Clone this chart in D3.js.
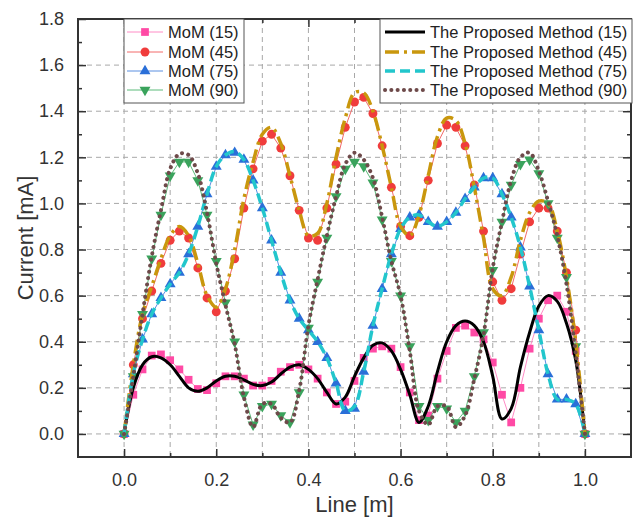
<!DOCTYPE html>
<html>
<head>
<meta charset="utf-8">
<script src="https://cdn.jsdelivr.net/npm/d3@7"></script>
<style>
  body { margin: 0; background: #fff; }
  svg { display: block; font-family: "Liberation Sans", Arial, sans-serif; }
</style>
</head>
<body>
<svg id="chart" width="642" height="519"></svg>
<script>
// sample positions along the line [m]
const xs = [0, 0.02, 0.04, 0.06, 0.08, 0.10, 0.12, 0.14, 0.16, 0.18,
  0.20, 0.22, 0.24, 0.26, 0.28, 0.30, 0.32, 0.34, 0.36, 0.38,
  0.40, 0.42, 0.44, 0.46, 0.48, 0.50, 0.52, 0.54, 0.56, 0.58,
  0.60, 0.62, 0.64, 0.66, 0.68, 0.70, 0.72, 0.74, 0.76, 0.78,
  0.80, 0.82, 0.84, 0.86, 0.88, 0.90, 0.92, 0.94, 0.96, 0.98, 1.00];

// MoM currents [mA]
const mom15 = [0, 0.17, 0.28, 0.34, 0.345, 0.32, 0.28, 0.235, 0.195, 0.19,
  0.22, 0.25, 0.25, 0.24, 0.21, 0.21, 0.23, 0.27, 0.29, 0.30,
  0.28, 0.24, 0.18, 0.13, 0.14, 0.23, 0.33, 0.37, 0.38, 0.37,
  0.29, 0.18, 0.06, 0.08, 0.24, 0.36, 0.46, 0.47, 0.44, 0.41,
  0.31, 0.17, 0.05, 0.20, 0.37, 0.50, 0.58, 0.60, 0.53, 0.36, 0];
const mom45 = [0, 0.30, 0.50, 0.62, 0.74, 0.84, 0.88, 0.85, 0.72, 0.59,
  0.53, 0.62, 0.76, 0.98, 1.15, 1.27, 1.30, 1.24, 1.12, 0.97,
  0.85, 0.84, 0.98, 1.17, 1.33, 1.44, 1.46, 1.39, 1.25, 1.07,
  0.90, 0.86, 0.94, 1.10, 1.26, 1.34, 1.33, 1.25, 1.08, 0.88,
  0.66, 0.58, 0.63, 0.78, 0.92, 0.98, 0.98, 0.88, 0.70, 0.45, 0];
const mom75 = [0, 0.26, 0.41, 0.52, 0.59, 0.65, 0.70, 0.78, 0.90, 1.04,
  1.16, 1.21, 1.22, 1.19, 1.10, 0.98, 0.84, 0.70, 0.58, 0.50,
  0.45, 0.40, 0.33, 0.22, 0.10, 0.11, 0.27, 0.47, 0.63, 0.78,
  0.89, 0.94, 0.95, 0.92, 0.90, 0.92, 0.96, 1.02, 1.07, 1.11,
  1.11, 1.04, 0.94, 0.81, 0.64, 0.45, 0.26, 0.15, 0.15, 0.13, 0];
const mom90 = [0, 0.25, 0.52, 0.76, 0.95, 1.12, 1.18, 1.18, 1.10, 0.95,
  0.75, 0.57, 0.40, 0.17, 0.04, 0.12, 0.13, 0.08, 0.05, 0.18,
  0.46, 0.66, 0.85, 1.03, 1.15, 1.18, 1.16, 1.09, 0.93, 0.75,
  0.60, 0.38, 0.12, 0.06, 0.12, 0.11, 0.05, 0.10, 0.25, 0.44,
  0.71, 0.92, 1.08, 1.17, 1.19, 1.13, 1.00, 0.85, 0.68, 0.38, 0];

// proposed method currents [mA]
const prop15 = [0, 0.20, 0.30, 0.335, 0.33, 0.30, 0.25, 0.20, 0.185, 0.20,
  0.23, 0.25, 0.25, 0.235, 0.215, 0.21, 0.225, 0.26, 0.29, 0.30,
  0.28, 0.24, 0.18, 0.13, 0.16, 0.25, 0.33, 0.385, 0.395, 0.36,
  0.28, 0.17, 0.05, 0.12, 0.27, 0.40, 0.47, 0.49, 0.47, 0.40,
  0.25, 0.065, 0.11, 0.29, 0.44, 0.555, 0.60, 0.575, 0.48, 0.32, 0];
const prop45 = [0, 0.30, 0.52, 0.64, 0.76, 0.86, 0.90, 0.86, 0.74, 0.60,
  0.55, 0.63, 0.80, 1.02, 1.18, 1.30, 1.33, 1.26, 1.12, 0.97,
  0.86, 0.87, 1.00, 1.20, 1.37, 1.48, 1.48, 1.40, 1.25, 1.07,
  0.90, 0.86, 0.95, 1.12, 1.29, 1.37, 1.36, 1.26, 1.07, 0.85,
  0.63, 0.60, 0.68, 0.84, 0.96, 1.01, 1.00, 0.88, 0.68, 0.40, 0];
const prop75 = [0, 0.26, 0.41, 0.52, 0.59, 0.65, 0.70, 0.78, 0.90, 1.04,
  1.16, 1.21, 1.225, 1.19, 1.10, 0.98, 0.84, 0.70, 0.58, 0.50,
  0.45, 0.40, 0.33, 0.22, 0.10, 0.12, 0.27, 0.47, 0.63, 0.78,
  0.89, 0.94, 0.95, 0.92, 0.90, 0.92, 0.96, 1.02, 1.07, 1.11,
  1.11, 1.04, 0.94, 0.81, 0.64, 0.45, 0.26, 0.15, 0.15, 0.13, 0];
const prop90 = [0, 0.25, 0.52, 0.77, 0.97, 1.15, 1.215, 1.21, 1.13, 0.96,
  0.74, 0.56, 0.39, 0.16, 0.03, 0.13, 0.13, 0.07, 0.05, 0.19,
  0.47, 0.67, 0.86, 1.03, 1.17, 1.22, 1.19, 1.11, 0.94, 0.75,
  0.60, 0.36, 0.10, 0.04, 0.12, 0.12, 0.03, 0.08, 0.24, 0.43,
  0.72, 0.92, 1.10, 1.20, 1.22, 1.14, 1.01, 0.86, 0.65, 0.35, 0];

const xTicks = [0, 0.2, 0.4, 0.6, 0.8, 1.0];
const xMinor = [0.1, 0.3, 0.5, 0.7, 0.9];
const yTicks = [0, 0.2, 0.4, 0.6, 0.8, 1.0, 1.2, 1.4, 1.6, 1.8];
const yMinor = [0.1, 0.3, 0.5, 0.7, 0.9, 1.1, 1.3, 1.5, 1.7];

const momSeries = [
  { name: "MoM (15)", values: mom15, color: "#ff4aa5", line: "#ff8cc6", symbol: d3.symbolSquare, size: 60, rot: 0 },
  { name: "MoM (45)", values: mom45, color: "#f03c3c", line: "#f26a6a", symbol: d3.symbolCircle, size: 62, rot: 0 },
  { name: "MoM (75)", values: mom75, color: "#2a6fd8", line: "#5a8fe0", symbol: d3.symbolTriangle, size: 52, rot: 0 },
  { name: "MoM (90)", values: mom90, color: "#3aa35c", line: "#5cbb7a", symbol: d3.symbolTriangle, size: 52, rot: 180 }
];
const propSeries = [
  { name: "The Proposed Method (15)", values: prop15, color: "#000000", width: 3, dash: null, cap: "butt" },
  { name: "The Proposed Method (45)", values: prop45, color: "#c9970d", width: 3.5, dash: "14,5,3,5", cap: "butt" },
  { name: "The Proposed Method (75)", values: prop75, color: "#22c6cc", width: 3.5, dash: "10,5", cap: "butt" },
  { name: "The Proposed Method (90)", values: prop90, color: "#6e4a4a", width: 4, dash: "0.1,6.2", cap: "round" }
];

const svg = d3.select("#chart");
const margin = { left: 78, right: 11, top: 19, bottom: 62 };
const W = 642 - margin.left - margin.right;
const H = 519 - margin.top - margin.bottom;

const x = d3.scaleLinear().domain([-0.1, 1.1]).range([0, W]);
const y = d3.scaleLinear().domain([-0.1, 1.8]).range([H, 0]);

const g = svg.append("g").attr("transform", `translate(${margin.left},${margin.top})`);

// grid: dashed at every 0.1 in x, every 0.2 in y
g.append("g").selectAll("line").data(xTicks.concat(xMinor)).join("line")
  .attr("x1", d => x(d)).attr("x2", d => x(d)).attr("y1", 0).attr("y2", H)
  .attr("stroke", "#a8a8a8").attr("stroke-width", 1).attr("stroke-dasharray", "5,4");
g.append("g").selectAll("line").data(yTicks).join("line")
  .attr("y1", d => y(d)).attr("y2", d => y(d)).attr("x1", 0).attr("x2", W)
  .attr("stroke", "#a8a8a8").attr("stroke-width", 1).attr("stroke-dasharray", "5,4");

// MoM: thin line + markers
const momLine = d3.line().x((d, i) => x(xs[i])).y(d => y(d));
momSeries.forEach(s => {
  g.append("path").attr("d", momLine(s.values))
    .attr("fill", "none").attr("stroke", s.line).attr("stroke-width", 1);
  g.append("g").selectAll("path").data(s.values).join("path")
    .attr("d", d3.symbol().type(s.symbol).size(s.size))
    .attr("transform", (d, i) => `translate(${x(xs[i])},${y(d)}) rotate(${s.rot})`)
    .attr("fill", s.color);
});

// proposed method: smooth thick lines
const propLine = d3.line().x((d, i) => x(xs[i])).y(d => y(d)).curve(d3.curveCatmullRom.alpha(0.5));
propSeries.forEach(s => {
  g.append("path").attr("d", propLine(s.values))
    .attr("fill", "none").attr("stroke", s.color).attr("stroke-width", s.width)
    .attr("stroke-dasharray", s.dash).attr("stroke-linecap", s.cap);
});

// axes with inward ticks on all four sides
const tickStyle = sel => {
  sel.select(".domain").remove();
  sel.selectAll("line").attr("stroke", "#333").attr("stroke-width", 1.5);
  sel.selectAll("text").attr("fill", "#333").style("font-size", "18px");
};
g.append("g").attr("transform", `translate(0,${H})`)
  .call(d3.axisBottom(x).tickValues(xTicks).tickSizeInner(-8).tickPadding(16).tickFormat(d3.format(".1f")))
  .call(tickStyle);
g.append("g").attr("transform", `translate(0,${H})`)
  .call(d3.axisBottom(x).tickValues(xMinor).tickSizeInner(-4).tickFormat(""))
  .call(tickStyle);
g.append("g")
  .call(d3.axisTop(x).tickValues(xTicks).tickSizeInner(-8).tickFormat(""))
  .call(tickStyle);
g.append("g")
  .call(d3.axisTop(x).tickValues(xMinor).tickSizeInner(-4).tickFormat(""))
  .call(tickStyle);
g.append("g")
  .call(d3.axisLeft(y).tickValues(yTicks).tickSizeInner(-8).tickPadding(14).tickFormat(d3.format(".1f")))
  .call(tickStyle);
g.append("g")
  .call(d3.axisLeft(y).tickValues(yMinor).tickSizeInner(-4).tickFormat(""))
  .call(tickStyle);
g.append("g").attr("transform", `translate(${W},0)`)
  .call(d3.axisRight(y).tickValues(yTicks).tickSizeInner(-8).tickFormat(""))
  .call(tickStyle);
g.append("g").attr("transform", `translate(${W},0)`)
  .call(d3.axisRight(y).tickValues(yMinor).tickSizeInner(-4).tickFormat(""))
  .call(tickStyle);

// frame
g.append("rect").attr("width", W).attr("height", H)
  .attr("fill", "none").attr("stroke", "#333").attr("stroke-width", 2);

// axis titles
svg.append("text").attr("x", margin.left + W / 2).attr("y", 512)
  .attr("text-anchor", "middle").attr("fill", "#333").style("font-size", "22px").text("Line [m]");
svg.append("text").attr("transform", `translate(33,${margin.top + H / 2}) rotate(-90)`)
  .attr("text-anchor", "middle").attr("fill", "#333").style("font-size", "22px").text("Current [mA]");

// legends
const rowY = [32, 52, 71, 90];
const legL = svg.append("g");
legL.append("rect").attr("x", 124).attr("y", 19).attr("width", 120).attr("height", 84)
  .attr("fill", "#fff").attr("stroke", "#555").attr("stroke-width", 1);
momSeries.forEach((s, i) => {
  legL.append("line").attr("x1", 127).attr("x2", 163).attr("y1", rowY[i]).attr("y2", rowY[i])
    .attr("stroke", s.line).attr("stroke-width", 1);
  legL.append("path").attr("d", d3.symbol().type(s.symbol).size(s.size))
    .attr("transform", `translate(145,${rowY[i]}) rotate(${s.rot})`).attr("fill", s.color);
  legL.append("text").attr("x", 168).attr("y", rowY[i]).attr("dy", "0.35em")
    .attr("fill", "#222").style("font-size", "16.5px").text(s.name);
});

const legR = svg.append("g");
legR.append("rect").attr("x", 380).attr("y", 19).attr("width", 252).attr("height", 84)
  .attr("fill", "#fff").attr("stroke", "#555").attr("stroke-width", 1);
propSeries.forEach((s, i) => {
  legR.append("line").attr("x1", 385).attr("x2", 425).attr("y1", rowY[i]).attr("y2", rowY[i])
    .attr("stroke", s.color).attr("stroke-width", s.width)
    .attr("stroke-dasharray", s.dash).attr("stroke-linecap", s.cap);
  legR.append("text").attr("x", 430).attr("y", rowY[i]).attr("dy", "0.35em")
    .attr("fill", "#222").style("font-size", "16.5px").text(s.name);
});
</script>
</body>
</html>
